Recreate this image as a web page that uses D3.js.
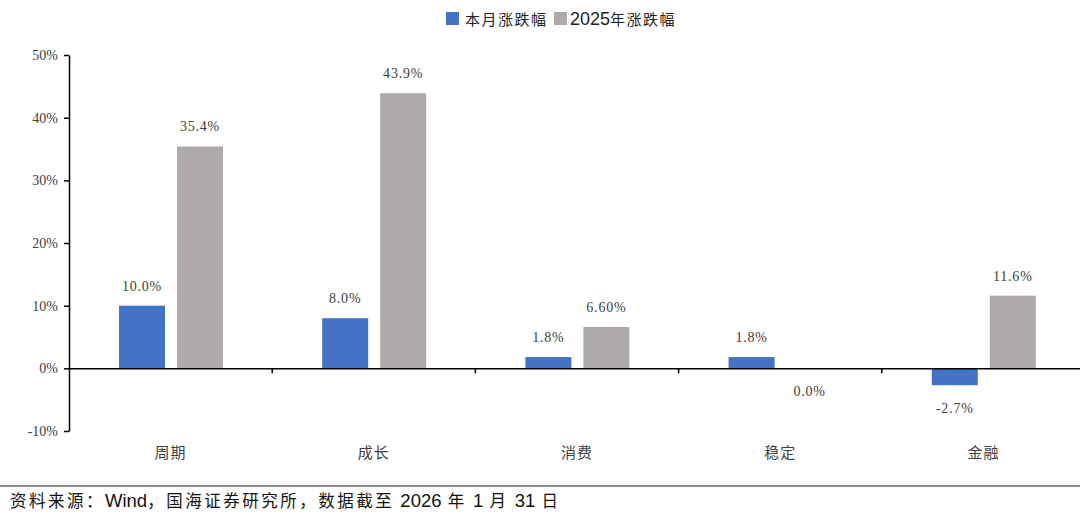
<!DOCTYPE html>
<html><head><meta charset="utf-8">
<script src="https://cdn.jsdelivr.net/npm/d3@7"></script>
<style>body{margin:0;background:#fff;}svg{display:block;}</style>
</head><body>
<svg id="c" width="1080" height="517"></svg>
<script>
const categories = ["周期","成长","消费","稳定","金融"];
const seriesNames = ["本月涨跌幅","2025年涨跌幅"];
const monthValues = [10.0, 8.0, 1.8, 1.8, -2.7];
const yearValues = [35.4, 43.9, 6.6, 0.0, 11.6];
const monthLabels = ["10.0%","8.0%","1.8%","1.8%","-2.7%"];
const yearLabels = ["35.4%","43.9%","6.60%","0.0%","11.6%"];
const yTicks = [-10,0,10,20,30,40,50];
const colors = ["#4472C4","#AEAAAA"];
const sourceText = "资料来源：Wind，国海证券研究所，数据截至 2026 年 1 月 31 日";

(function(){
const svg = d3.select("#c");
const serif = "'Liberation Serif','DejaVu Serif','Noto Sans CJK SC',serif";
const cjk = "'Noto Sans CJK SC',sans-serif";
const sans = "'Liberation Sans','Noto Sans CJK SC',sans-serif";

const mLeft = 69, mRight = 1085, mTop = 55, mBottom = 431;
const y = d3.scaleLinear().domain([-10,50]).range([mBottom, mTop]);
const x = d3.scaleBand().domain(categories).range([mLeft, mRight]).padding(0);
const bw = x.bandwidth();
const inner = d3.scaleBand().domain([0,1]).range([50, 154]).paddingInner(12/58);

// y axis
const yAxis = d3.axisLeft(y).tickValues(yTicks).tickFormat(d => d + "%").tickSize(5).tickSizeOuter(0);
const ga = svg.append("g").attr("transform", `translate(${mLeft},0)`).call(yAxis);
ga.select(".domain").attr("stroke","#000").attr("stroke-width",1.5);
ga.selectAll(".tick line").attr("stroke","#000").attr("stroke-width",1.5);
ga.selectAll(".tick text").attr("font-family", serif).attr("font-size",14).attr("fill","#404040").attr("x",-11);

// bars
const series = [monthValues, yearValues];
const labels = [monthLabels, yearLabels];
series.forEach((vals, si) => {
  svg.append("g").selectAll("rect").data(vals).join("rect")
    .attr("x", (d,i) => x(categories[i]) + inner(si))
    .attr("width", inner.bandwidth())
    .attr("y", d => y(Math.max(0,d)))
    .attr("height", d => Math.abs(y(d) - y(0)))
    .attr("fill", colors[si]);
  svg.append("g").selectAll("text").data(vals).join("text")
    .attr("x", (d,i) => x(categories[i]) + inner(si) + inner.bandwidth()/2)
    .attr("y", d => d > 0 ? y(d) - 15 : y(Math.min(0,d)) + 28)
    .attr("text-anchor","middle")
    .attr("font-family", serif).attr("font-size",14).attr("fill","#404040")
    .attr("letter-spacing", 0.8)
    .text((d,i) => labels[si][i]);
});

// x axis at 0
const xAxis = d3.axisBottom(x).tickSize(0).tickFormat("");
const gx = svg.append("g").attr("transform", `translate(0,${y(0)})`).call(xAxis);
gx.select(".domain").attr("stroke","#000").attr("stroke-width",1.5);
const bounds = categories.slice(1).map(c => x(c));
svg.append("g").selectAll("line").data(bounds).join("line")
  .attr("x1", d => d).attr("x2", d => d)
  .attr("y1", y(0)).attr("y2", y(0) + 5)
  .attr("stroke","#000").attr("stroke-width",1.5);

// category labels
svg.append("g").selectAll("text").data(categories).join("text")
  .attr("x", d => x(d) + bw/2)
  .attr("y", 458)
  .attr("text-anchor","middle")
  .attr("font-family", cjk).attr("font-size",15).attr("fill","#404040")
  .attr("letter-spacing", 1)
  .text(d => d);

// legend
const lg = svg.append("g");
const legendX = [446, 554];
seriesNames.forEach((n, i) => {
  lg.append("rect").attr("x", legendX[i]).attr("y", 12).attr("width", 13).attr("height", 13).attr("fill", colors[i]);
  const t = lg.append("text").attr("x", legendX[i] + 19 - (i ? 3 : 0)).attr("y", 25)
    .attr("font-family", cjk).attr("font-size", 15).attr("fill", "#222").attr("letter-spacing", 1.5);
  const m = n.match(/^(\d+)(.*)$/);
  if (m) {
    t.append("tspan").attr("font-family", sans).attr("font-size", 18).attr("letter-spacing", 0).text(m[1]);
    t.append("tspan").text(m[2]);
  } else {
    t.text(n);
  }
});

// footer
svg.append("line").attr("x1",0).attr("x2",1080).attr("y1",486).attr("y2",486).attr("stroke","#666").attr("stroke-width",1.5);
const ft = svg.append("text").attr("x",10).attr("y",507).attr("fill","#111");
const parts = sourceText.match(/[A-Za-z0-9]+|[^A-Za-z0-9]+/g);
parts.forEach(p => {
  const latin = /^[A-Za-z0-9]+$/.test(p);
  ft.append("tspan")
    .attr("font-family", latin ? sans : cjk)
    .attr("font-size", latin ? 18.5 : 16.5)
    .attr("letter-spacing", latin ? 0 : 2.5)
    .text(p);
});
})();
</script>
</body></html>
